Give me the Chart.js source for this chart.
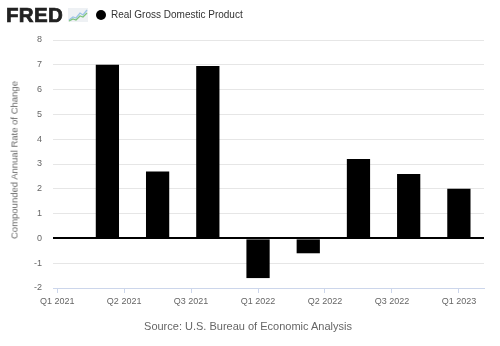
<!DOCTYPE html>
<html>
<head>
<meta charset="utf-8">
<script src="https://cdn.jsdelivr.net/npm/chart.js@4.4.0/dist/chart.umd.min.js"></script>
<style>
  html, body { margin:0; padding:0; background:#fff; }
  #wrap { position:relative; width:500px; height:346px; overflow:hidden; font-family:"Liberation Sans", Arial, sans-serif; }
  #c { position:absolute; left:0; top:0; }
  #logo { position:absolute; left:6px; top:4px; font-size:20.5px; font-weight:bold; color:#222; letter-spacing:0.3px; line-height:22px; -webkit-text-stroke:0.7px #222; }
  #icon { position:absolute; left:68px; top:8px; }
  #dot { position:absolute; left:96px; top:10px; width:10px; height:10px; border-radius:50%; background:#000; }
  #title { position:absolute; left:111px; top:9px; font-size:10px; color:#333; line-height:12px; white-space:nowrap; }
  #ytitle { position:absolute; left:14px; top:160px; transform:translate(-50%,-50%) rotate(-90deg); font-size:9.5px; color:#666; white-space:nowrap; }
  #source { position:absolute; left:0; width:496px; top:320px; text-align:center; font-size:11px; color:#666; line-height:13px; }
</style>
</head>
<body>
<div id="wrap">
  <canvas id="c" width="500" height="346"></canvas>
  <div id="logo">FRED</div>
  <svg id="icon" width="20" height="14" viewBox="0 0 20 14">
    <rect x="0" y="0" width="20" height="14" fill="#eef1f4"/>
    <polyline points="1,12 5,9 8,10 12,5 15,7 19,2" fill="none" stroke="#9cc3e5" stroke-width="1.3"/>
    <polyline points="1,13 5,11 8,12 12,8 15,9 19,5" fill="none" stroke="#7dc47d" stroke-width="1.3"/>
  </svg>
  <div id="dot"></div>
  <div id="title">Real Gross Domestic Product</div>
  <div id="ytitle">Compounded Annual Rate of Change</div>
  <div id="source">Source: U.S. Bureau of Economic Analysis</div>
</div>
<script>
// ---- data ----
const categories = ['Q2 2021','Q3 2021','Q4 2021','Q1 2022','Q2 2022','Q3 2022','Q4 2022','Q1 2023'];
const quarterDates = ['2021-04','2021-07','2021-10','2022-01','2022-04','2022-07','2022-10','2023-01'];
const gdpValues = [7.0, 2.7, 6.95, -1.6, -0.6, 3.2, 2.6, 2.0];
const xTickDates = ['2021-01','2021-05','2021-09','2022-01','2022-05','2022-09','2023-01'];
const xTickLabels = ['Q1 2021','Q2 2021','Q3 2021','Q1 2022','Q2 2022','Q3 2022','Q1 2023'];
const yTicks = [-2,-1,0,1,2,3,4,5,6,7,8];

// month index relative to Jan 2021
function monthIndex(s){ const [y,m] = s.split('-').map(Number); return (y-2021)*12 + (m-1); }
const xTickPos = xTickDates.map(monthIndex);
const points = quarterDates.map((d,i)=>({x: monthIndex(d), y: gdpValues[i]}));

new Chart(document.getElementById('c'), {
  type: 'bar',
  data: {
    datasets: [{
      label: 'Real Gross Domestic Product',
      data: points,
      backgroundColor: '#000',
      borderWidth: 0,
      barPercentage: 0.463,
      categoryPercentage: 1
    }]
  },
  options: {
    responsive: false,
    animation: false,
    devicePixelRatio: 1,
    layout: { padding: { left: 0, top: 40, right: 16, bottom: 0 } },
    plugins: { legend: { display: false }, tooltip: { enabled: false } },
    font: { family: '"Liberation Sans", Arial, sans-serif' },
    scales: {
      x: {
        type: 'linear',
        min: -0.25, max: 25.5,
        offset: false,
        grid: { drawOnChartArea: false, drawTicks: true, tickLength: 5, color: '#ccd6eb', offset: false },
        border: { display: true, color: '#ccd6eb' },
        ticks: {
          autoSkip: false, maxRotation: 0, minRotation: 0, padding: 3,
          color: '#666', font: { size: 9, family: '"Liberation Sans", Arial, sans-serif' },
          callback: (v, i) => xTickLabels[i]
        },
        afterBuildTicks: s => { s.ticks = xTickPos.map(v => ({ value: v })); },
        afterFit: s => { s.height = 58; }
      },
      y: {
        min: -2, max: 8,
        afterBuildTicks: s => { s.ticks = yTicks.map(v => ({ value: v })); },
        ticks: { padding: 11, color: '#666', font: { size: 9, family: '"Liberation Sans", Arial, sans-serif' } },
        grid: {
          drawTicks: false,
          color: c => (c.tick && c.tick.value === 0) ? '#000' : '#e6e6e6',
          lineWidth: c => (c.tick && c.tick.value === 0) ? 2 : 1
        },
        border: { display: false },
        afterFit: s => { s.width = 53; }
      }
    }
  }
});
</script>
</body>
</html>
